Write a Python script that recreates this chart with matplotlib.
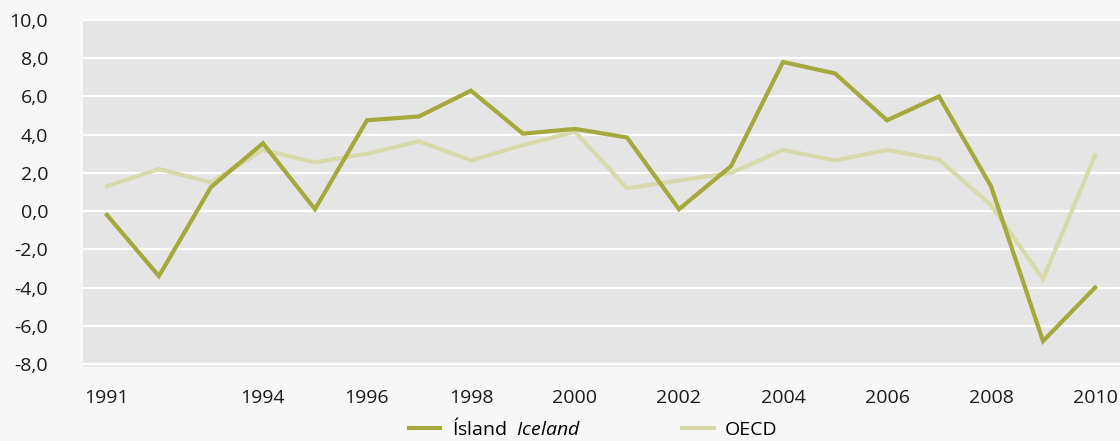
import matplotlib.pyplot as plt
from matplotlib.ticker import FuncFormatter

plt.rcParams['font.family'] = ['Open Sans', 'DejaVu Sans']
plt.rcParams['mathtext.fontset'] = 'custom'
plt.rcParams['mathtext.rm'] = 'Open Sans'
plt.rcParams['mathtext.it'] = 'Open Sans:italic'

years = list(range(1991, 2011))
iceland = [-0.2, -3.4, 1.25, 3.55, 0.1, 4.75, 4.95, 6.3, 4.05, 4.3,
           3.85, 0.1, 2.35, 7.8, 7.2, 4.75, 6.0, 1.3, -6.8, -4.0]
oecd = [1.3, 2.2, 1.5, 3.2, 2.55, 3.0, 3.65, 2.65, 3.45, 4.15,
        1.2, 1.6, 2.0, 3.2, 2.65, 3.2, 2.7, 0.3, -3.55, 2.9]
xticks = [1991, 1994, 1996, 1998, 2000, 2002, 2004, 2006, 2008, 2010]
yticks = list(range(-8, 11, 2))

bg = '#f7f7f7'
fig = plt.figure(figsize=(11.2, 4.41), dpi=100, facecolor=bg)
ax = fig.add_axes([0.0741, 0.168, 0.9259, 0.789])
ax.set_facecolor('#e5e5e5')

ax.plot(years, iceland, color='#a5a83a', lw=3, label='Ísland  $\\it{Iceland}$',
        solid_joinstyle='miter', zorder=3)
ax.plot(years, oecd, color='#d7d9ab', lw=3, label='OECD',
        solid_joinstyle='miter', zorder=2)

ax.set_xlim(1990.54, 2010.48)
ax.set_ylim(-8.15, 10.05)
ax.set_xticks(xticks)
ax.set_yticks(yticks)
ax.yaxis.set_major_formatter(FuncFormatter(lambda v, p: f'{v:.1f}'.replace('.', ',')))
ax.grid(axis='y', color='white', lw=1.6)
ax.set_axisbelow(True)
ax.tick_params(length=0, labelsize=14, colors='#1a1a1a')
ax.tick_params(axis='y', pad=25)
ax.tick_params(axis='x', pad=16)
for s in ax.spines.values():
    s.set_visible(False)

fig.legend(loc='lower center', bbox_to_anchor=(0.53, -0.035), ncol=2, frameon=False,
           fontsize=14, handlelength=1.6, handletextpad=0.6, columnspacing=5.2)

fig.savefig('out.png', dpi=100, facecolor=bg)
